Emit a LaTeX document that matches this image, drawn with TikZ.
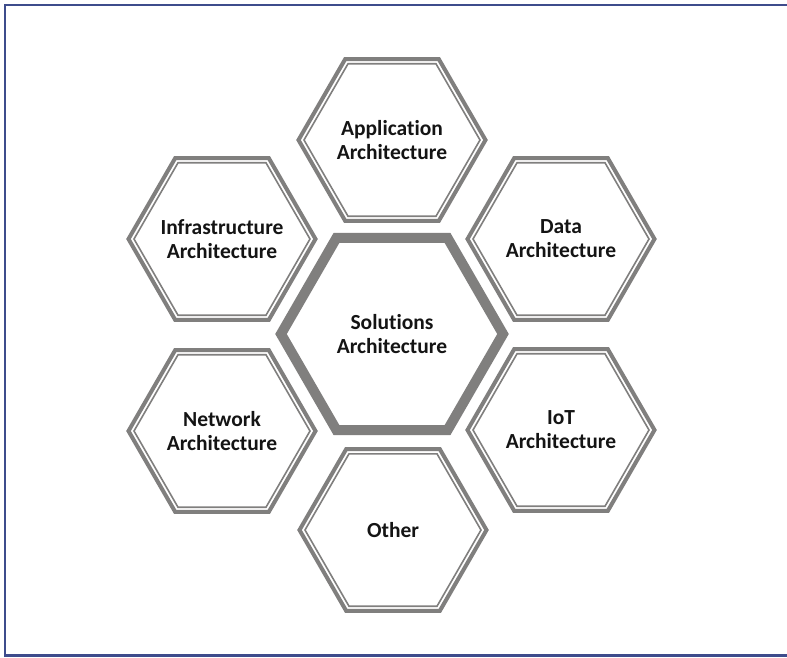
\documentclass[tikz,border=0pt]{standalone}
\usepackage{fontspec}
\setmainfont{Carlito}[Ligatures=NoCommon]
\usepackage{tikz}
\definecolor{hexgray}{RGB}{128,127,126}
\definecolor{framenavy}{RGB}{62,76,140}

\begin{document}
\begin{tikzpicture}[x=1pt, y=-1pt,
    celltext/.style={align=center, font=\fontsize{21.5}{24}\selectfont\bfseries, text=black!92},
    hexouter/.style={draw=hexgray, line width=4pt},
    hexinner/.style={draw=hexgray, line width=1.6pt},
    hexcore/.style={draw=hexgray, line width=10pt}]
    \clip (0,0) rectangle (787,657);
    \fill[white] (0,0) rectangle (787,657);

    % page frame, right side runs off the picture
    \draw[framenavy, line width=2.5pt] (5,5) rectangle (800,655.5);

    % centre cell
    \node[celltext] (sol) at (392,334) {Solutions\\Architecture};
    \draw[hexcore, shift={(sol)}] (0:111) -- (60:111) -- (120:111) -- (180:111) -- (240:111) -- (300:111) -- cycle;

    % ring of cells
    \node[celltext] (app) at (392,140) {Application\\Architecture};
    \node[celltext] (infra) at (222,239) {Infrastructure\\Architecture};
    \node[celltext] (data) at (561,239) {Data\\Architecture};
    \node[celltext] (net) at (222,431) {Network\\Architecture};
    \node[celltext] (iot) at (561,430) {IoT\\Architecture};
    \node[celltext] (other) at (393,530) {Other};

    \foreach \c in {app,infra,data,net,iot,other} {
        \draw[hexouter, shift={(\c)}] (0:93.5) -- (60:93.5) -- (120:93.5) -- (180:93.5) -- (240:93.5) -- (300:93.5) -- cycle;
        \draw[hexinner, shift={(\c)}] (0:88) -- (60:88) -- (120:88) -- (180:88) -- (240:88) -- (300:88) -- cycle;
    }
\end{tikzpicture}
\end{document}
